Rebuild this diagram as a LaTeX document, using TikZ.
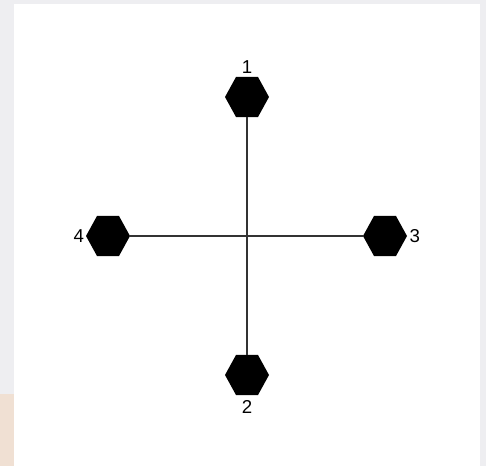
\documentclass[tikz,border=0pt]{standalone}
\usepackage{fontspec}
\setmainfont{Liberation Sans}
\usetikzlibrary{shapes.geometric, positioning}
\definecolor{bggray}{HTML}{EEEEF1}
\definecolor{peach}{HTML}{F0E0D3}
\definecolor{linegray}{HTML}{333333}

\begin{document}
\begin{tikzpicture}[
  x=0.75pt, y=-0.75pt,
  hexnode/.style={
    regular polygon, regular polygon sides=6, fill=black, draw=none,
    minimum size=33pt, inner sep=0pt, yscale=1.05
  },
  numlbl/.style={font=\fontsize{14}{16}\selectfont, text=black, inner sep=0pt},
  arm/.style={line width=1pt, linegray},
]

% Background
\fill[bggray] (0,0) rectangle (486,466);
\fill[peach] (0,394) rectangle (14,466);
\fill[white] (14,4) rectangle (480,466);

% =============================================
% Hexagons
% =============================================
\node[hexnode] (hex1) at (247,97) {};
\node[hexnode] (hex2) at (247,375) {};
\node[hexnode] (hex3) at (385,236) {};
\node[hexnode] (hex4) at (108,236) {};

% Labels
\node[numlbl, above=2.5pt of hex1] (lbl1) {1};
\node[numlbl, below=4pt of hex2] (lbl2) {2};
\node[numlbl, right=1.5pt of hex3] (lbl3) {3};
\node[numlbl, left=1pt of hex4] (lbl4) {4};

% =============================================
% Cross
% =============================================
\draw[arm] (hex1.south) -- (hex2.north);
\draw[arm] (hex4.east) -- (hex3.west);

\end{tikzpicture}
\end{document}
